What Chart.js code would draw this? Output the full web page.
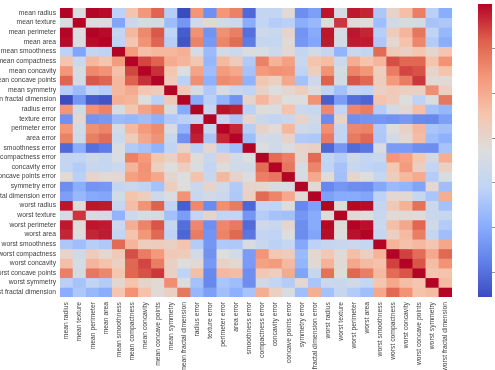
<!DOCTYPE html>
<html><head><meta charset="utf-8">
<script src="https://cdn.jsdelivr.net/npm/chart.js@4"></script>
<style>
html,body{margin:0;padding:0;background:#fff;width:495px;height:370px;overflow:hidden}
canvas{position:absolute;left:0;top:0;filter:blur(0.6px)}
</style></head><body>
<canvas id="heat" width="495" height="370"></canvas>
<canvas id="bar" width="495" height="370"></canvas>
<script>
const features=["mean radius","mean texture","mean perimeter","mean area","mean smoothness","mean compactness","mean concavity","mean concave points","mean symmetry","mean fractal dimension","radius error","texture error","perimeter error","area error","smoothness error","compactness error","concavity error","concave points error","symmetry error","fractal dimension error","worst radius","worst texture","worst perimeter","worst area","worst smoothness","worst compactness","worst concavity","worst concave points","worst symmetry","worst fractal dimension"];
const r00=[1,.324,.998,.987,.171,.506,.677,.823,.148,-.312,.679,-.097,.674,.736,-.223,.206,.194,.376,-.104,-.043,.970,.297,.965,.941,.120,.413,.527,.744,.164,.007];
const r01=[.324,1,.330,.321,-.023,.237,.302,.293,.071,-.076,.276,.386,.282,.260,.007,.192,.143,.164,.009,.054,.353,.912,.358,.344,.078,.278,.301,.295,.105,.119];
const r02=[.998,.330,1,.987,.207,.557,.716,.851,.183,-.261,.692,-.087,.693,.745,-.203,.251,.228,.407,-.082,-.006,.969,.303,.970,.942,.151,.456,.564,.771,.189,.051];
const r03=[.987,.321,.987,1,.177,.499,.686,.823,.151,-.283,.733,-.066,.727,.800,-.167,.213,.208,.372,-.072,-.020,.963,.287,.959,.959,.124,.390,.513,.722,.144,.004];
const r04=[.171,-.023,.207,.177,1,.659,.522,.554,.558,.585,.301,.068,.296,.247,.332,.319,.248,.381,.201,.284,.213,.036,.239,.207,.805,.472,.435,.503,.394,.499];
const r05=[.506,.237,.557,.499,.659,1,.883,.831,.603,.565,.497,.046,.549,.456,.135,.739,.571,.642,.230,.507,.535,.248,.590,.510,.566,.866,.816,.816,.510,.687];
const r06=[.677,.302,.716,.686,.522,.883,1,.921,.501,.337,.632,.076,.660,.617,.099,.670,.691,.683,.178,.449,.688,.300,.730,.676,.449,.755,.884,.861,.409,.515];
const r07=[.823,.293,.851,.823,.554,.831,.921,1,.462,.167,.698,.021,.711,.690,.028,.490,.439,.616,.095,.258,.830,.293,.856,.810,.453,.667,.752,.910,.376,.369];
const r08=[.148,.071,.183,.151,.558,.603,.501,.462,1,.480,.303,.128,.314,.224,.187,.422,.343,.393,.449,.332,.186,.091,.219,.177,.427,.473,.434,.430,.700,.438];
const r09=[-.312,-.076,-.261,-.283,.585,.565,.337,.167,.480,1,.000,.164,.040,-.090,.402,.560,.447,.341,.345,.688,-.254,-.051,-.205,-.232,.505,.459,.346,.175,.334,.767];
const r10=[.679,.276,.692,.733,.301,.497,.632,.698,.303,.000,1,.213,.973,.952,.165,.356,.332,.514,.241,.228,.715,.195,.721,.752,.142,.287,.381,.531,.095,.050];
const r11=[-.097,.386,-.087,-.066,.068,.046,.076,.021,.128,.164,.213,1,.223,.112,.397,.232,.195,.230,.412,.280,-.112,.409,-.102,-.083,-.074,-.092,-.069,-.120,-.128,-.046];
const r12=[.674,.282,.693,.727,.296,.549,.660,.711,.314,.040,.973,.223,1,.938,.151,.416,.362,.556,.266,.244,.697,.200,.721,.731,.130,.342,.419,.555,.110,.086];
const r13=[.736,.260,.745,.800,.247,.456,.617,.690,.224,-.090,.952,.112,.938,1,.075,.285,.271,.416,.134,.127,.757,.196,.761,.811,.125,.284,.385,.538,.074,.018];
const r14=[-.223,.007,-.203,-.167,.332,.135,.099,.028,.187,.402,.165,.397,.151,.075,1,.337,.269,.329,.413,.427,-.231,-.075,-.217,-.182,.314,-.056,-.058,-.102,-.107,.101];
const r15=[.206,.192,.251,.213,.319,.739,.670,.490,.422,.560,.356,.232,.416,.285,.337,1,.801,.744,.395,.803,.205,.143,.261,.199,.227,.679,.639,.483,.278,.591];
const r16=[.194,.143,.228,.208,.248,.571,.691,.439,.343,.447,.332,.195,.362,.271,.269,.801,1,.772,.309,.727,.187,.100,.227,.189,.168,.485,.663,.440,.198,.439];
const r17=[.376,.164,.407,.372,.381,.642,.683,.616,.393,.341,.514,.230,.556,.416,.329,.744,.772,1,.313,.611,.358,.087,.395,.342,.215,.453,.550,.602,.143,.311];
const r18=[-.104,.009,-.082,-.072,.201,.230,.178,.095,.449,.345,.241,.412,.266,.134,.413,.395,.309,.313,1,.369,-.128,-.077,-.104,-.110,-.013,.060,.037,-.030,.390,.078];
const r19=[-.043,.054,-.006,-.020,.284,.507,.449,.258,.332,.688,.228,.280,.244,.127,.427,.803,.727,.611,.369,1,-.037,-.003,-.001,-.023,.171,.390,.380,.215,.111,.591];
const r20=[.970,.353,.969,.963,.213,.535,.688,.830,.186,-.254,.715,-.112,.697,.757,-.231,.205,.187,.358,-.128,-.037,1,.360,.994,.984,.217,.476,.574,.787,.244,.093];
const r21=[.297,.912,.303,.287,.036,.248,.300,.293,.091,-.051,.195,.409,.200,.196,-.075,.143,.100,.087,-.077,-.003,.360,1,.365,.346,.225,.361,.368,.360,.233,.219];
const r22=[.965,.358,.970,.959,.239,.590,.730,.856,.219,-.205,.721,-.102,.721,.761,-.217,.261,.227,.395,-.104,-.001,.994,.365,1,.978,.237,.529,.618,.816,.269,.139];
const r23=[.941,.344,.942,.959,.207,.510,.676,.810,.177,-.232,.752,-.083,.731,.811,-.182,.199,.189,.342,-.110,-.023,.984,.346,.978,1,.209,.438,.543,.747,.209,.080];
const r24=[.120,.078,.151,.124,.805,.566,.449,.453,.427,.505,.142,-.074,.130,.125,.314,.227,.168,.215,-.013,.171,.217,.225,.237,.209,1,.568,.518,.548,.494,.618];
const r25=[.413,.278,.456,.390,.472,.866,.755,.667,.473,.459,.287,-.092,.342,.284,-.056,.679,.485,.453,.060,.390,.476,.361,.529,.438,.568,1,.892,.801,.614,.810];
const r26=[.527,.301,.564,.513,.435,.816,.884,.752,.434,.346,.381,-.069,.419,.385,-.058,.639,.663,.550,.037,.380,.574,.368,.618,.543,.518,.892,1,.855,.533,.687];
const r27=[.744,.295,.771,.722,.503,.816,.861,.910,.430,.175,.531,-.120,.555,.538,-.102,.483,.440,.602,-.030,.215,.787,.360,.816,.747,.548,.801,.855,1,.503,.511];
const r28=[.164,.105,.189,.144,.394,.510,.409,.376,.700,.334,.095,-.128,.110,.074,-.107,.278,.198,.143,.390,.111,.244,.233,.269,.209,.494,.614,.533,.503,1,.538];
const r29=[.007,.119,.051,.004,.499,.687,.515,.369,.438,.767,.050,-.046,.086,.018,.101,.591,.439,.311,.078,.591,.093,.219,.139,.080,.618,.810,.687,.511,.538,1];
const rows=[r00,r01,r02,r03,r04,r05,r06,r07,r08,r09,r10,r11,r12,r13,r14,r15,r16,r17,r18,r19,r20,r21,r22,r23,r24,r25,r26,r27,r28,r29];
const colorbarTicks=[-.2,0,.2,.4,.6,.8];
const vmin=-.3116, vmax=1;

const coolwarm=[[59,76,192],[98,130,234],[141,176,254],[192,212,245],[221,221,221],[245,196,173],[244,152,122],[222,96,77],[180,4,38]];
function colorOf(v){
  const t=Math.max(0,Math.min(1,(v-vmin)/(vmax-vmin)))*(coolwarm.length-1);
  const i=Math.min(coolwarm.length-2,Math.floor(t)),f=t-i;
  const c=coolwarm[i].map((a,k)=>Math.round(a+(coolwarm[i+1][k]-a)*f));
  return `rgb(${c[0]},${c[1]},${c[2]})`;
}
const font={family:'"Liberation Sans",Arial,sans-serif',size:6.75};
const textColor='#404040';

new Chart(document.getElementById('heat'),{
  type:'bar',
  data:{labels:features,datasets:rows.map((row,i)=>({
    label:features[i],
    data:row.map(()=>[i,i+1]),
    backgroundColor:row.map(colorOf),
    grouped:false,barPercentage:1,categoryPercentage:1,borderWidth:0
  }))},
  options:{
    responsive:false,animation:false,
    layout:{autoPadding:false,padding:{top:4,right:43,left:0,bottom:0}},
    plugins:{legend:{display:false},tooltip:{enabled:false}},
    scales:{
      x:{type:'category',grid:{display:false,drawTicks:false},border:{display:false},
        afterFit(a){a.height=73},
        ticks:{autoSkip:false,maxRotation:90,minRotation:90,font,color:textColor,padding:5}},
      y:{type:'linear',reverse:true,min:0,max:30,grid:{display:false,drawTicks:false},border:{display:false},
        afterFit(a){a.width=60},
        afterBuildTicks(a){a.ticks=features.map((n,i)=>({value:i+.5}))},
        ticks:{autoSkip:false,font,color:textColor,padding:4,callback:v=>features[Math.round(v-.5)]}}
    }
  }
});

new Chart(document.getElementById('bar'),{
  type:'bar',
  data:{labels:['scale'],datasets:[{
    data:[[vmin,vmax]],barPercentage:1,categoryPercentage:1,borderWidth:0,
    backgroundColor(ctx){
      const a=ctx.chart.chartArea; if(!a) return '#ddd';
      const g=ctx.chart.ctx.createLinearGradient(0,a.bottom,0,a.top);
      coolwarm.forEach((c,i)=>g.addColorStop(i/(coolwarm.length-1),`rgb(${c})`));
      return g;
    }
  }]},
  options:{
    responsive:false,animation:false,
    layout:{autoPadding:false,padding:{top:4,left:478,right:0,bottom:73}},
    plugins:{legend:{display:false},tooltip:{enabled:false}},
    scales:{
      x:{display:false},
      y:{position:'right',min:vmin,max:vmax,
        afterFit(a){a.width=3},
        afterBuildTicks(a){a.ticks=colorbarTicks.map(v=>({value:v}))},
        grid:{drawOnChartArea:false,drawTicks:true,tickLength:3,tickColor:'#999',tickWidth:1},
        border:{display:false},
        ticks:{display:false}}
    }
  }
});
</script>
</body></html>
